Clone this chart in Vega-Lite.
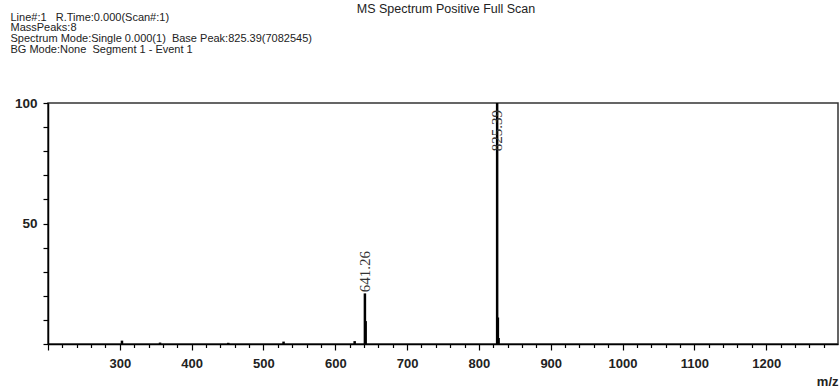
{
  "$schema": "https://vega.github.io/schema/vega-lite/v6.json",
  "width": 790,
  "height": 241,
  "autosize": {"type": "none"},
  "padding": {"left": 48, "top": 103, "right": 2, "bottom": 43},
  "background": "white",
  "title": {
    "text": "MS Spectrum Positive Full Scan",
    "anchor": "middle",
    "frame": "group",
    "font": "Liberation Sans",
    "fontSize": 12.5,
    "fontWeight": "normal",
    "color": "#222",
    "offset": -4,
    "dx": 3
  },
  "data": {
    "values": [
      {"mz": 303, "rel": 1.4, "label": ""},
      {"mz": 356, "rel": 0.6, "label": ""},
      {"mz": 451, "rel": 0.5, "label": ""},
      {"mz": 528, "rel": 1.0, "label": ""},
      {"mz": 627, "rel": 1.2, "label": ""},
      {"mz": 641.26, "rel": 21, "label": "641.26"},
      {"mz": 642.3, "rel": 9.5, "label": ""},
      {"mz": 825.39, "rel": 100, "label": "825.39"},
      {"mz": 826.4, "rel": 11, "label": ""},
      {"mz": 827.4, "rel": 2.5, "label": ""}
    ]
  },
  "config": {
    "view": {"stroke": "#333", "strokeWidth": 1.5},
    "axis": {"grid": false}
  },
  "encoding": {
    "x": {
      "field": "mz",
      "type": "quantitative",
      "scale": {"domain": [200, 1300], "nice": false, "zero": false},
      "axis": {
        "values": [200,220,240,260,280,300,320,340,360,380,400,420,440,460,480,500,520,540,560,580,600,620,640,660,680,700,720,740,760,780,800,820,840,860,880,900,920,940,960,980,1000,1020,1040,1060,1080,1100,1120,1140,1160,1180,1200,1220,1240,1260,1280],
        "format": "d",
        "labelExpr": "datum.value % 100 == 0 && datum.value >= 300 && datum.value <= 1200 ? datum.label : ''",
        "tickSize": {"condition": {"test": "datum.value % 100 == 0", "value": 6}, "value": 3.5},
        "tickColor": "black",
        "tickWidth": 1.2,
        "domainColor": "black",
        "domainWidth": 1.5,
        "labelFont": "Liberation Sans",
        "labelFontWeight": "bold",
        "labelFontSize": 13,
        "labelColor": "#222",
        "labelPadding": 7,
        "labelFlush": false,
        "title": "m/z",
        "titleAnchor": "end",
        "titleAlign": "right",
        "titleFont": "Liberation Sans",
        "titleFontWeight": "bold",
        "titleFontSize": 13,
        "titleColor": "#222",
        "titlePadding": 5
      }
    },
    "y": {
      "field": "rel",
      "type": "quantitative",
      "scale": {"domain": [0, 100], "nice": false},
      "axis": {
        "values": [0,10,20,30,40,50,60,70,80,90,100],
        "labelExpr": "datum.value == 50 || datum.value == 100 ? datum.label : ''",
        "tickSize": 5,
        "tickColor": "black",
        "tickWidth": 1.2,
        "domainColor": "black",
        "domainWidth": 1.5,
        "labelFont": "Liberation Sans",
        "labelFontWeight": "bold",
        "labelFontSize": 13.5,
        "labelColor": "#222",
        "labelPadding": 6,
        "labelFlush": false,
        "title": ["Line#:1\u00a0\u00a0\u00a0R.Time:0.000(Scan#:1)", "MassPeaks:8", "Spectrum Mode:Single 0.000(1)\u00a0\u00a0Base Peak:825.39(7082545)", "BG Mode:None\u00a0\u00a0Segment 1 - Event 1"],
        "titleAngle": 0,
        "titleAlign": "left",
        "titleBaseline": "top",
        "titleX": -38,
        "titleY": -92,
        "titleFont": "Liberation Sans",
        "titleFontWeight": "normal",
        "titleFontSize": 11,
        "titleLineHeight": 10.7,
        "titleColor": "#222"
      }
    }
  },
  "layer": [
    {
      "mark": {"type": "rule", "color": "black", "strokeWidth": 2.5},
      "encoding": {
        "y2": {"datum": 0}
      }
    },
    {
      "transform": [
        {"filter": "datum.label != ''"},
        {"calculate": "min(datum.rel + 0.5, 80)", "as": "rel"}
      ],
      "mark": {"type": "text", "angle": 270, "align": "left", "baseline": "middle", "font": "Liberation Serif", "fontSize": 15, "color": "#333"},
      "encoding": {
        "text": {"field": "label"}
      }
    }
  ]
}
